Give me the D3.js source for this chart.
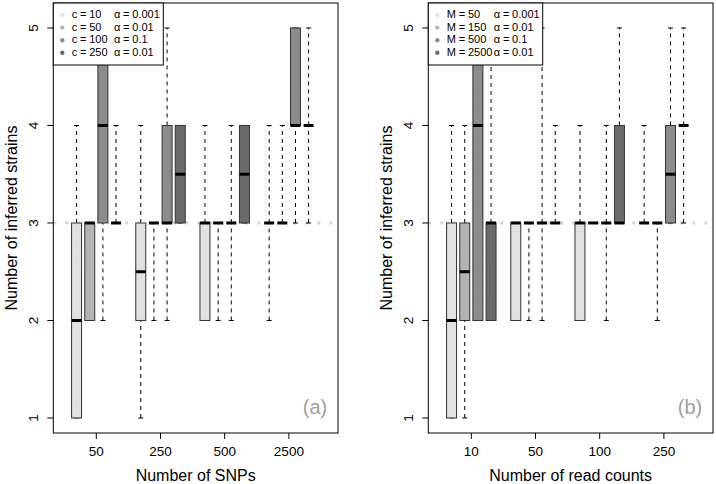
<!DOCTYPE html>
<html>
<head>
<meta charset="utf-8">
<script src="https://cdn.jsdelivr.net/npm/d3@7"></script>
<style>
  body { margin: 0; background: #fff; }
  svg { display: block; font-family: "Liberation Sans", Arial, Helvetica, sans-serif; }
</style>
</head>
<body>
<svg id="chart" width="716" height="484"></svg>
<script>
// ---- data ----
const yTicks = [1, 2, 3, 4, 5];
const alphaLabels = ["\u03b1 = 0.001", "\u03b1 = 0.01", "\u03b1 = 0.1", "\u03b1 = 0.01"];
const seriesFills = ["#e2e2e2", "#b5b5b5", "#8d8d8d", "#6b6b6b"];

// panel (a)
const snpGroups = ["50", "250", "500", "2500"];
const snpSeries = ["c = 10", "c = 50", "c = 100", "c = 250"];
// each box: [lower whisker, q1, median, q3, upper whisker]
const snpStats = [
  [[1, 1, 2, 3, 4], [2, 2, 3, 3, 3], [2, 3, 4, 5, 5], [3, 3, 3, 3, 4]],
  [[1, 2, 2.5, 3, 4], [2, 3, 3, 3, 3], [2, 3, 3, 4, 5], [3, 3, 3.5, 4, 4]],
  [[2, 2, 3, 3, 4], [2, 3, 3, 3, 3], [2, 3, 3, 3, 4], [3, 3, 3.5, 4, 4]],
  [[2, 3, 3, 3, 4], [3, 3, 3, 3, 4], [3, 4, 4, 5, 5], [3, 4, 4, 4, 5]]
];

// panel (b)
const readGroups = ["10", "50", "100", "250"];
const readSeries = ["M = 50", "M = 150", "M = 500", "M = 2500"];
const readStats = [
  [[1, 1, 2, 3, 4], [1, 2, 2.5, 3, 4], [2, 2, 4, 5, 5], [2, 2, 3, 3, 5]],
  [[2, 2, 3, 3, 3], [2, 3, 3, 3, 3], [2, 3, 3, 3, 5], [3, 3, 3, 3, 4]],
  [[2, 2, 3, 3, 4], [3, 3, 3, 3, 3], [2, 3, 3, 3, 4], [3, 3, 3, 4, 5]],
  [[3, 3, 3, 3, 4], [2, 3, 3, 3, 3], [3, 3, 3.5, 4, 5], [3, 4, 4, 4, 5]]
];

const svg = d3.select("#chart");

// hatch textures like the original boxes
const defs = svg.append("defs");
seriesFills.forEach((c, i) => {
  const p = defs.append("pattern")
    .attr("id", "fill" + i)
    .attr("patternUnits", "userSpaceOnUse")
    .attr("width", 3).attr("height", 3)
    .attr("patternTransform", "rotate(45)");
  p.append("rect").attr("width", 3).attr("height", 3).attr("fill", c);
  p.append("line")
    .attr("x1", 0).attr("y1", 0).attr("x2", 0).attr("y2", 3)
    .attr("stroke", d3.color(c).darker(0.35)).attr("stroke-width", 1)
    .attr("opacity", i === 0 ? 0.25 : 0.5);
});

function drawPanel(opt) {
  const { left, right, top, bottom, groups, series, stats, tag, xTitle } = opt;

  const y = d3.scaleLinear().domain([0.846, 5.256]).range([bottom, top]);
  const x = d3.scaleLinear().domain([0.33, 4.765]).range([left, right]);
  const sub = d3.scaleBand().domain(d3.range(series.length)).range([-0.41, 0.41]);
  const boxW = 10;

  const g = svg.append("g");

  // reference line at 3
  g.append("line")
    .attr("x1", left).attr("x2", right)
    .attr("y1", y(3)).attr("y2", y(3))
    .attr("stroke", "#d3d3d3").attr("stroke-width", 3)
    .attr("stroke-dasharray", "3,9");

  stats.forEach((grp, gi) => {
    grp.forEach((s, si) => {
      const cx = x(gi + 1 + sub(si) + sub.bandwidth() / 2);
      const [lo, q1, med, q3, hi] = s;
      const b = g.append("g");
      // whiskers
      [[lo, q1], [q3, hi]].forEach(([a, c]) => {
        if (a === c) return;
        b.append("line")
          .attr("x1", cx).attr("x2", cx)
          .attr("y1", y(a)).attr("y2", y(c))
          .attr("stroke", "#000").attr("stroke-width", 1)
          .attr("stroke-dasharray", "4,4");
      });
      // staples
      [lo, hi].forEach(v => {
        b.append("line")
          .attr("x1", cx - boxW / 4).attr("x2", cx + boxW / 4)
          .attr("y1", y(v)).attr("y2", y(v))
          .attr("stroke", "#000").attr("stroke-width", 1);
      });
      // box
      b.append("rect")
        .attr("x", cx - boxW / 2).attr("width", boxW)
        .attr("y", y(q3)).attr("height", y(q1) - y(q3))
        .attr("fill", `url(#fill${si})`)
        .attr("stroke", "#333").attr("stroke-width", 1);
      // median
      b.append("line")
        .attr("x1", cx - boxW / 2).attr("x2", cx + boxW / 2)
        .attr("y1", y(med)).attr("y2", y(med))
        .attr("stroke", "#000").attr("stroke-width", 3);
    });
  });

  // frame
  g.append("rect")
    .attr("x", left).attr("y", top)
    .attr("width", right - left).attr("height", bottom - top)
    .attr("fill", "none").attr("stroke", "#000").attr("stroke-width", 1);

  // x axis
  groups.forEach((lab, gi) => {
    const px = x(gi + 1);
    g.append("line").attr("x1", px).attr("x2", px)
      .attr("y1", bottom).attr("y2", bottom + 6).attr("stroke", "#000");
    g.append("text").attr("x", px).attr("y", bottom + 19)
      .attr("text-anchor", "middle").attr("dominant-baseline", "middle")
      .attr("font-size", 13.5).attr("fill", "#000").text(lab);
  });
  g.append("text").attr("x", (left + right) / 2).attr("y", bottom + 44)
    .attr("text-anchor", "middle").attr("dominant-baseline", "middle")
    .attr("font-size", 16).text(xTitle);

  // y axis
  yTicks.forEach(t => {
    g.append("line").attr("x1", left - 6).attr("x2", left)
      .attr("y1", y(t)).attr("y2", y(t)).attr("stroke", "#000");
    g.append("text")
      .attr("transform", `translate(${left - 19},${y(t)}) rotate(-90)`)
      .attr("text-anchor", "middle").attr("dominant-baseline", "middle")
      .attr("font-size", 13.5).text(t);
  });
  g.append("text")
    .attr("transform", `translate(${left - 41},${(top + bottom) / 2}) rotate(-90)`)
    .attr("text-anchor", "middle").attr("dominant-baseline", "middle")
    .attr("font-size", 16).text("Number of inferred strains");

  // panel tag
  g.append("text").attr("x", right - 23).attr("y", bottom - 24)
    .attr("text-anchor", "middle").attr("dominant-baseline", "middle")
    .attr("font-size", 20).attr("fill", "#a0a0a0").text(tag);

  // legend
  const lg = g.append("g");
  lg.append("rect")
    .attr("x", left).attr("y", top)
    .attr("width", opt.legendW).attr("height", 62)
    .attr("fill", "#fff").attr("stroke", "#000");
  series.forEach((name, i) => {
    const ry = top + 12 + i * 12.6;
    lg.append("circle").attr("cx", left + 9).attr("cy", ry).attr("r", 2.2)
      .attr("fill", seriesFills[i]);
    lg.append("text").attr("x", left + 18.5).attr("y", ry)
      .attr("dominant-baseline", "middle").attr("font-size", 11)
      .attr("word-spacing", -0.3).text(name);
    lg.append("text").attr("x", left + opt.alphaX).attr("y", ry)
      .attr("dominant-baseline", "middle").attr("font-size", 11)
      .attr("word-spacing", -0.3).text(alphaLabels[i]);
  });
}

drawPanel({
  left: 53.3, right: 338, top: 3, bottom: 433,
  groups: snpGroups, series: snpSeries, stats: snpStats,
  tag: "(a)", xTitle: "Number of SNPs", legendW: 110, alphaX: 60.7
});
drawPanel({
  left: 428.3, right: 713, top: 3, bottom: 433,
  groups: readGroups, series: readSeries, stats: readStats,
  tag: "(b)", xTitle: "Number of read counts", legendW: 114.4, alphaX: 65.5
});
</script>
</body>
</html>
